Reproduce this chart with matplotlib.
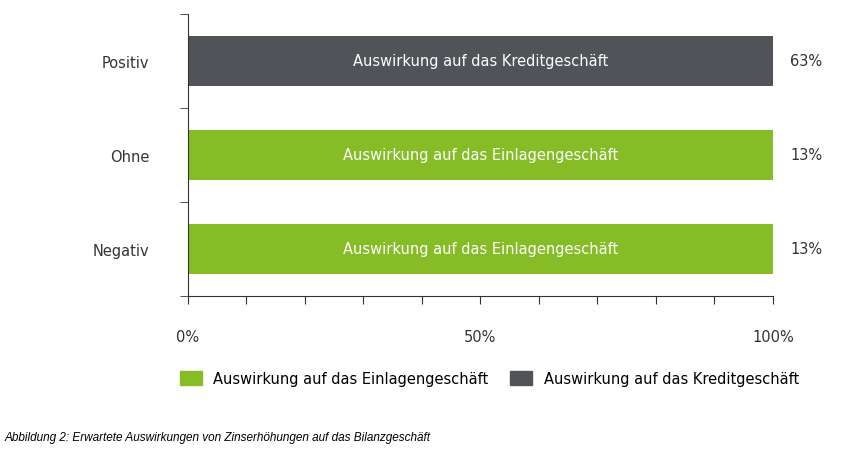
import numpy as np
import matplotlib.pyplot as plt

# data
categories = ['Negativ', 'Ohne', 'Positiv']
bar_values = [100, 100, 100]
bar_texts = ['Auswirkung auf das Einlagengeschäft', 'Auswirkung auf das Einlagengeschäft',
             'Auswirkung auf das Kreditgeschäft']
share_labels = ['13%', '13%', '63%']
series_names = ['Auswirkung auf das Einlagengeschäft', 'Auswirkung auf das Kreditgeschäft']

green = '#86bc25'
grey = '#505357'
bar_colors = [green, green, grey]

fig = plt.figure(figsize=(8.44, 4.52), dpi=100)
ax = fig.add_axes([0.2227, 0.343, 0.693, 0.624])

y = np.arange(len(categories))
ax.barh(y, bar_values, height=0.54, color=bar_colors)
for yi, txt, lab in zip(y, bar_texts, share_labels):
    ax.text(50, yi, txt, color='white', ha='center', va='center', fontsize=10.5)
    ax.text(103, yi, lab, color='#333333', ha='left', va='center', fontsize=10.5)

ax.set_ylim(-0.5, 2.5)
ax.set_xlim(0, 100)
ax.set_yticks(y)
ax.set_yticklabels(categories, fontsize=10.5, color='#333333')
ax.set_yticks([-0.5, 0.5, 1.5, 2.5], minor=True)
ax.tick_params(axis='y', which='major', length=0, pad=28)
ax.tick_params(axis='y', which='minor', length=6, color='#333333')
ax.set_xticks(np.arange(0, 101, 10))
ax.set_xticklabels(['0%' if v == 0 else '50%' if v == 50 else '100%' if v == 100 else '' for v in range(0, 101, 10)],
                   fontsize=10.5, color='#333333')
ax.tick_params(axis='x', length=6, pad=18, color='#333333')
for s in ['top', 'right']:
    ax.spines[s].set_visible(False)
for s in ['left', 'bottom']:
    ax.spines[s].set_color('#333333')

handles = [plt.Rectangle((0, 0), 1, 1, color=green), plt.Rectangle((0, 0), 1, 1, color=grey)]
fig.legend(handles, series_names, loc='center', bbox_to_anchor=(0.58, 0.16), ncol=2, frameon=False,
           fontsize=10.5, handlelength=1.5, handleheight=1.1, columnspacing=1.5)

fig.text(0.005, 0.025, 'Abbildung 2: Erwartete Auswirkungen von Zinserhöhungen auf das Bilanzgeschäft',
         fontsize=8.5, style='italic', family='Liberation Sans')

fig.savefig('out.png')
